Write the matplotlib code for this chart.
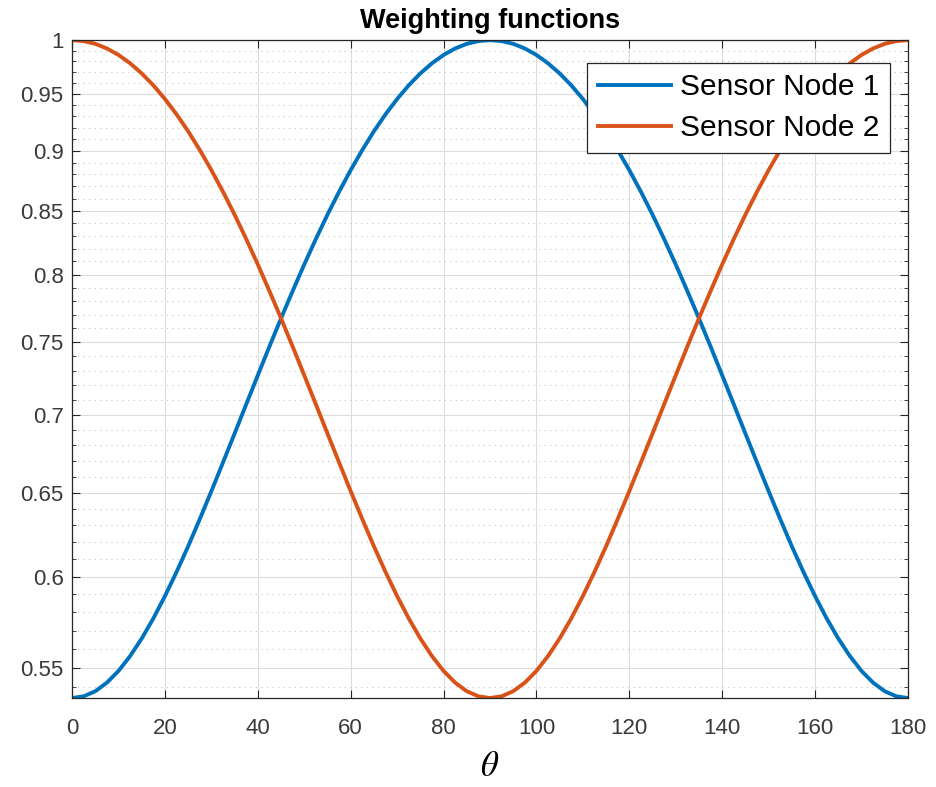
import matplotlib
matplotlib.use("Agg")
import matplotlib.pyplot as plt
from matplotlib.ticker import FixedLocator, NullFormatter

# angle samples (deg) and weights for the two sensor nodes
theta = [0, 2.5, 5, 7.5, 10, 12.5, 15, 17.5, 20, 22.5, 25, 27.5, 30, 32.5, 35, 37.5,
         40, 42.5, 45, 47.5, 50, 52.5, 55, 57.5, 60, 62.5, 65, 67.5, 70, 72.5, 75, 77.5,
         80, 82.5, 85, 87.5, 90, 92.5, 95, 97.5, 100, 102.5, 105, 107.5, 110, 112.5,
         115, 117.5, 120, 122.5, 125, 127.5, 130, 132.5, 135, 137.5, 140, 142.5, 145,
         147.5, 150, 152.5, 155, 157.5, 160, 162.5, 165, 167.5, 170, 172.5, 175, 177.5, 180]
node1 = [0.5345, 0.5354, 0.5380, 0.5424, 0.5485, 0.5563, 0.5657, 0.5766, 0.5890,
         0.6027, 0.6176, 0.6338, 0.6509, 0.6689, 0.6876, 0.7070, 0.7268, 0.7470,
         0.7673, 0.7875, 0.8077, 0.8275, 0.8469, 0.8656, 0.8836, 0.9007, 0.9169,
         0.9318, 0.9455, 0.9579, 0.9688, 0.9782, 0.9860, 0.9921, 0.9965, 0.9991,
         1.0,
         0.9991, 0.9965, 0.9921, 0.9860, 0.9782, 0.9688, 0.9579, 0.9455, 0.9318,
         0.9169, 0.9007, 0.8836, 0.8656, 0.8469, 0.8275, 0.8077, 0.7875, 0.7673,
         0.7470, 0.7268, 0.7070, 0.6876, 0.6689, 0.6509, 0.6338, 0.6176, 0.6027,
         0.5890, 0.5766, 0.5657, 0.5563, 0.5485, 0.5424, 0.5380, 0.5354, 0.5345]
node2 = [1.0, 0.9991, 0.9965, 0.9921, 0.9860, 0.9782, 0.9688, 0.9579, 0.9455,
         0.9318, 0.9169, 0.9007, 0.8836, 0.8656, 0.8469, 0.8275, 0.8077, 0.7875,
         0.7673, 0.7470, 0.7268, 0.7070, 0.6876, 0.6689, 0.6509, 0.6338, 0.6176,
         0.6027, 0.5890, 0.5766, 0.5657, 0.5563, 0.5485, 0.5424, 0.5380, 0.5354,
         0.5345,
         0.5354, 0.5380, 0.5424, 0.5485, 0.5563, 0.5657, 0.5766, 0.5890, 0.6027,
         0.6176, 0.6338, 0.6509, 0.6689, 0.6876, 0.7070, 0.7268, 0.7470, 0.7673,
         0.7875, 0.8077, 0.8275, 0.8469, 0.8656, 0.8836, 0.9007, 0.9169, 0.9318,
         0.9455, 0.9579, 0.9688, 0.9782, 0.9860, 0.9921, 0.9965, 0.9991, 1.0]

x_ticks = [0, 20, 40, 60, 80, 100, 120, 140, 160, 180]
y_ticks = [0.55, 0.6, 0.65, 0.7, 0.75, 0.8, 0.85, 0.9, 0.95, 1.0]
y_tick_labels = ["0.55", "0.6", "0.65", "0.7", "0.75", "0.8", "0.85", "0.9", "0.95", "1"]
y_minor = [0.54, 0.56, 0.57, 0.58, 0.59, 0.61, 0.62, 0.63, 0.64, 0.66, 0.67, 0.68, 0.69,
           0.71, 0.72, 0.73, 0.74, 0.76, 0.77, 0.78, 0.79, 0.81, 0.82, 0.83, 0.84,
           0.86, 0.87, 0.88, 0.89, 0.91, 0.92, 0.93, 0.94, 0.96, 0.97, 0.98, 0.99]

plt.rcParams.update({
    "font.family": ["Liberation Sans", "DejaVu Sans"],
    "mathtext.fontset": "stix",
})

fig = plt.figure(figsize=(9.36, 7.87), dpi=100)
ax = fig.add_axes([0.077, 0.113, 0.893, 0.836])

ax.plot(theta, node1, color="#0072BD", linewidth=2.8, label="Sensor Node 1",
        solid_joinstyle="round")
ax.plot(theta, node2, color="#D95319", linewidth=2.8, label="Sensor Node 2",
        solid_joinstyle="round")

ax.set_yscale("log")
ax.set_xlim(0, 180)
ax.set_ylim(0.5345, 1.0)
ax.set_xticks(x_ticks)
ax.set_xticklabels([str(v) for v in x_ticks])
ax.yaxis.set_major_locator(FixedLocator(y_ticks))
ax.set_yticklabels(y_tick_labels)
ax.yaxis.set_minor_locator(FixedLocator(y_minor))
ax.yaxis.set_minor_formatter(NullFormatter())

ax.grid(True, which="major", color="#dcdcdc", linewidth=0.8)
ax.grid(True, which="minor", axis="y", color="#c4c4c4", linestyle=(0, (1, 4)), linewidth=0.8)
ax.set_axisbelow(True)

ax.tick_params(which="both", direction="in", top=True, right=True, colors="#262626",
               labelsize=16, labelcolor="#3a3a3a")
ax.tick_params(which="major", length=6)
ax.tick_params(which="minor", length=3)
ax.tick_params(axis="x", pad=14)
ax.tick_params(axis="y", pad=6)
for s in ax.spines.values():
    s.set_color("#262626")
    s.set_linewidth(0.9)

ax.set_title("Weighting functions", fontsize=19.5, fontweight="bold", pad=9)
ax.set_xlabel(r"$\theta$", fontsize=25, labelpad=8)

leg = ax.legend(loc="upper right", fontsize=21.5, fancybox=False, framealpha=1,
                edgecolor="#262626", handlelength=2.45, borderpad=0.35,
                labelspacing=0.45, handletextpad=0.3, borderaxespad=0,
                bbox_to_anchor=(0.978, 0.966))
leg.get_frame().set_linewidth(0.9)

fig.savefig("out.png", dpi=100)
